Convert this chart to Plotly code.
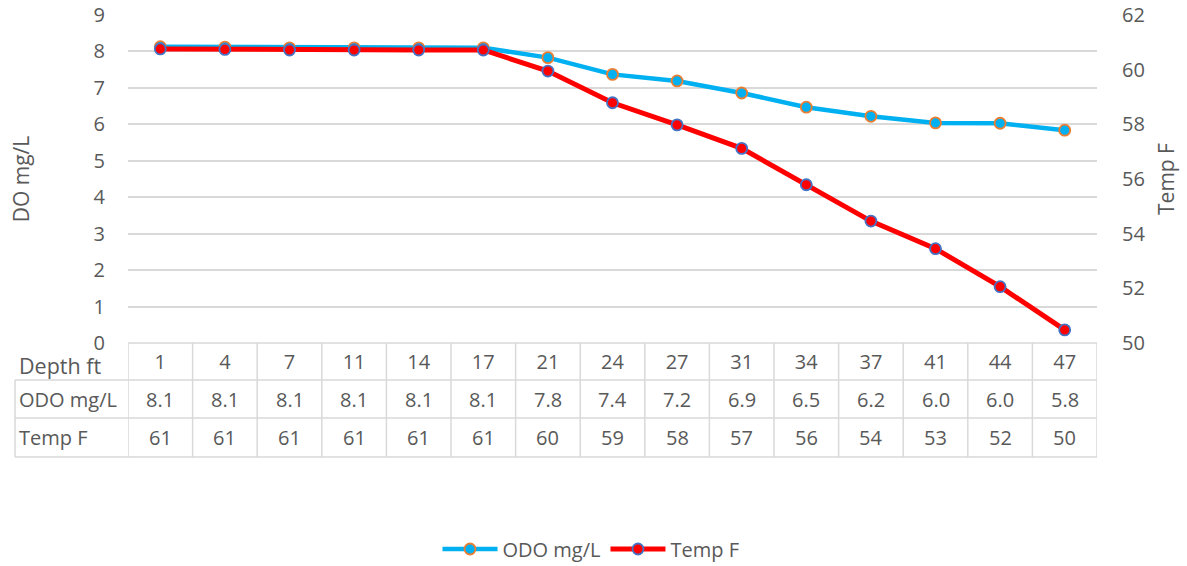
import plotly.graph_objects as go

# Profile readings by depth
depth_ft = [1, 4, 7, 11, 14, 17, 21, 24, 27, 31, 34, 37, 41, 44, 47]
odo_mg_l = [8.13, 8.12, 8.10, 8.10, 8.10, 8.10, 7.83, 7.37, 7.19, 6.86, 6.47, 6.22, 6.04, 6.03, 5.84]
temp_f = [60.76, 60.74, 60.72, 60.72, 60.72, 60.72, 59.95, 58.79, 57.98, 57.12, 55.79, 54.46, 53.45, 52.06, 50.48]

do_ticks = list(range(0, 10))
temp_ticks = list(range(50, 63, 2))

FONT = "Open Sans"
GREY_TEXT = "#595959"
GRID = "#d9d9d9"

W, H = 1187, 566
L, R, T, B = 128, 90, 15, 223
plot_h = H - T - B
plot_w = W - L - R


def py(px):
    """pixel row -> paper y"""
    return (H - B - px) / plot_h


def pxp(px):
    """pixel column -> paper x"""
    return (px - L) / plot_w


idx = list(range(len(depth_ft)))

fig = go.Figure()
fig.add_trace(go.Scatter(
    x=idx, y=odo_mg_l, name="ODO mg/L", mode="lines+markers",
    line=dict(color="#00b0f0", width=4.5),
    marker=dict(size=11, color="#00b0f0", line=dict(color="#ed7d31", width=1.8)),
    yaxis="y",
))
fig.add_trace(go.Scatter(
    x=idx, y=temp_f, name="Temp F", mode="lines+markers",
    line=dict(color="#ff0000", width=5),
    marker=dict(size=11, color="#ff0000", line=dict(color="#4472c4", width=1.8)),
    yaxis="y2",
))

# Data table below the plot area
row_tops = [380, 418, 457]
shapes = []
for b in range(len(depth_ft) + 1):
    shapes.append(dict(type="line", xref="x", yref="paper",
                       x0=b - 0.5, x1=b - 0.5, y0=0, y1=py(457),
                       line=dict(color=GRID, width=1.5)))
shapes.append(dict(type="line", xref="paper", yref="paper",
                   x0=pxp(15), x1=pxp(15), y0=py(380), y1=py(457),
                   line=dict(color=GRID, width=1.5)))
for r in row_tops:
    shapes.append(dict(type="line", xref="paper", yref="paper",
                       x0=pxp(15), x1=1, y0=py(r), y1=py(r),
                       line=dict(color=GRID, width=1.5)))
shapes.append(dict(type="line", xref="x", yref="paper",
                   x0=-0.5, x1=len(depth_ft) - 0.5, y0=0, y1=0,
                   line=dict(color=GRID, width=1.5)))

cell_font = dict(family=FONT, size=20, color=GREY_TEXT)
ann = []
rows = [("ODO mg/L", [f"{v:.1f}" for v in odo_mg_l], 399),
        ("Temp F", [f"{round(v):d}" for v in temp_f], 437.5)]
for label, vals, cy in rows:
    ann.append(dict(xref="paper", yref="paper", x=pxp(17), y=py(cy),
                    xanchor="left", yanchor="middle", text=label,
                    showarrow=False, font=cell_font))
    for i, v in enumerate(vals):
        ann.append(dict(xref="x", yref="paper", x=i, y=py(cy),
                        xanchor="center", yanchor="middle", text=v,
                        showarrow=False, font=cell_font))
ann.append(dict(xref="paper", yref="paper", x=pxp(17), y=py(365),
                xanchor="left", yanchor="middle", text="Depth ft",
                showarrow=False, font=dict(family=FONT, size=21.5, color=GREY_TEXT)))

fig.update_layout(
    width=W, height=H,
    margin=dict(l=L, r=R, t=T, b=B, autoexpand=False),
    paper_bgcolor="white", plot_bgcolor="white",
    font=dict(family=FONT, size=20, color=GREY_TEXT),
    shapes=shapes, annotations=ann,
    showlegend=True,
    legend=dict(orientation="h", x=pxp(591), xanchor="center",
                yref="container", y=(H - 549) / H, yanchor="middle",
                itemwidth=55,
                font=dict(family=FONT, size=20, color=GREY_TEXT),
                bgcolor="rgba(0,0,0,0)"),
    xaxis=dict(range=[-0.5, len(depth_ft) - 0.5], tickmode="array",
               tickvals=idx, ticktext=[str(d) for d in depth_ft],
               showgrid=False, zeroline=False, showline=False,
               ticks="", ticklabelstandoff=5,
               tickfont=dict(family=FONT, size=20, color=GREY_TEXT)),
    yaxis=dict(range=[0, 9], tickmode="array", tickvals=do_ticks,
               showgrid=True, gridcolor=GRID, gridwidth=1.5,
               zeroline=False, showline=False, ticks="",
               ticklabelstandoff=22,
               tickfont=dict(family=FONT, size=20, color=GREY_TEXT),
               title=dict(text="DO mg/L", standoff=58,
                          font=dict(family=FONT, size=21, color=GREY_TEXT))),
    yaxis2=dict(range=[50, 62], tickmode="array", tickvals=temp_ticks,
                overlaying="y", side="right", showgrid=False,
                zeroline=False, showline=False, ticks="",
                ticklabelstandoff=24,
                tickfont=dict(family=FONT, size=20, color=GREY_TEXT),
                title=dict(text="Temp F", standoff=14,
                           font=dict(family=FONT, size=21, color=GREY_TEXT))),
)

fig.write_html("out.html")
